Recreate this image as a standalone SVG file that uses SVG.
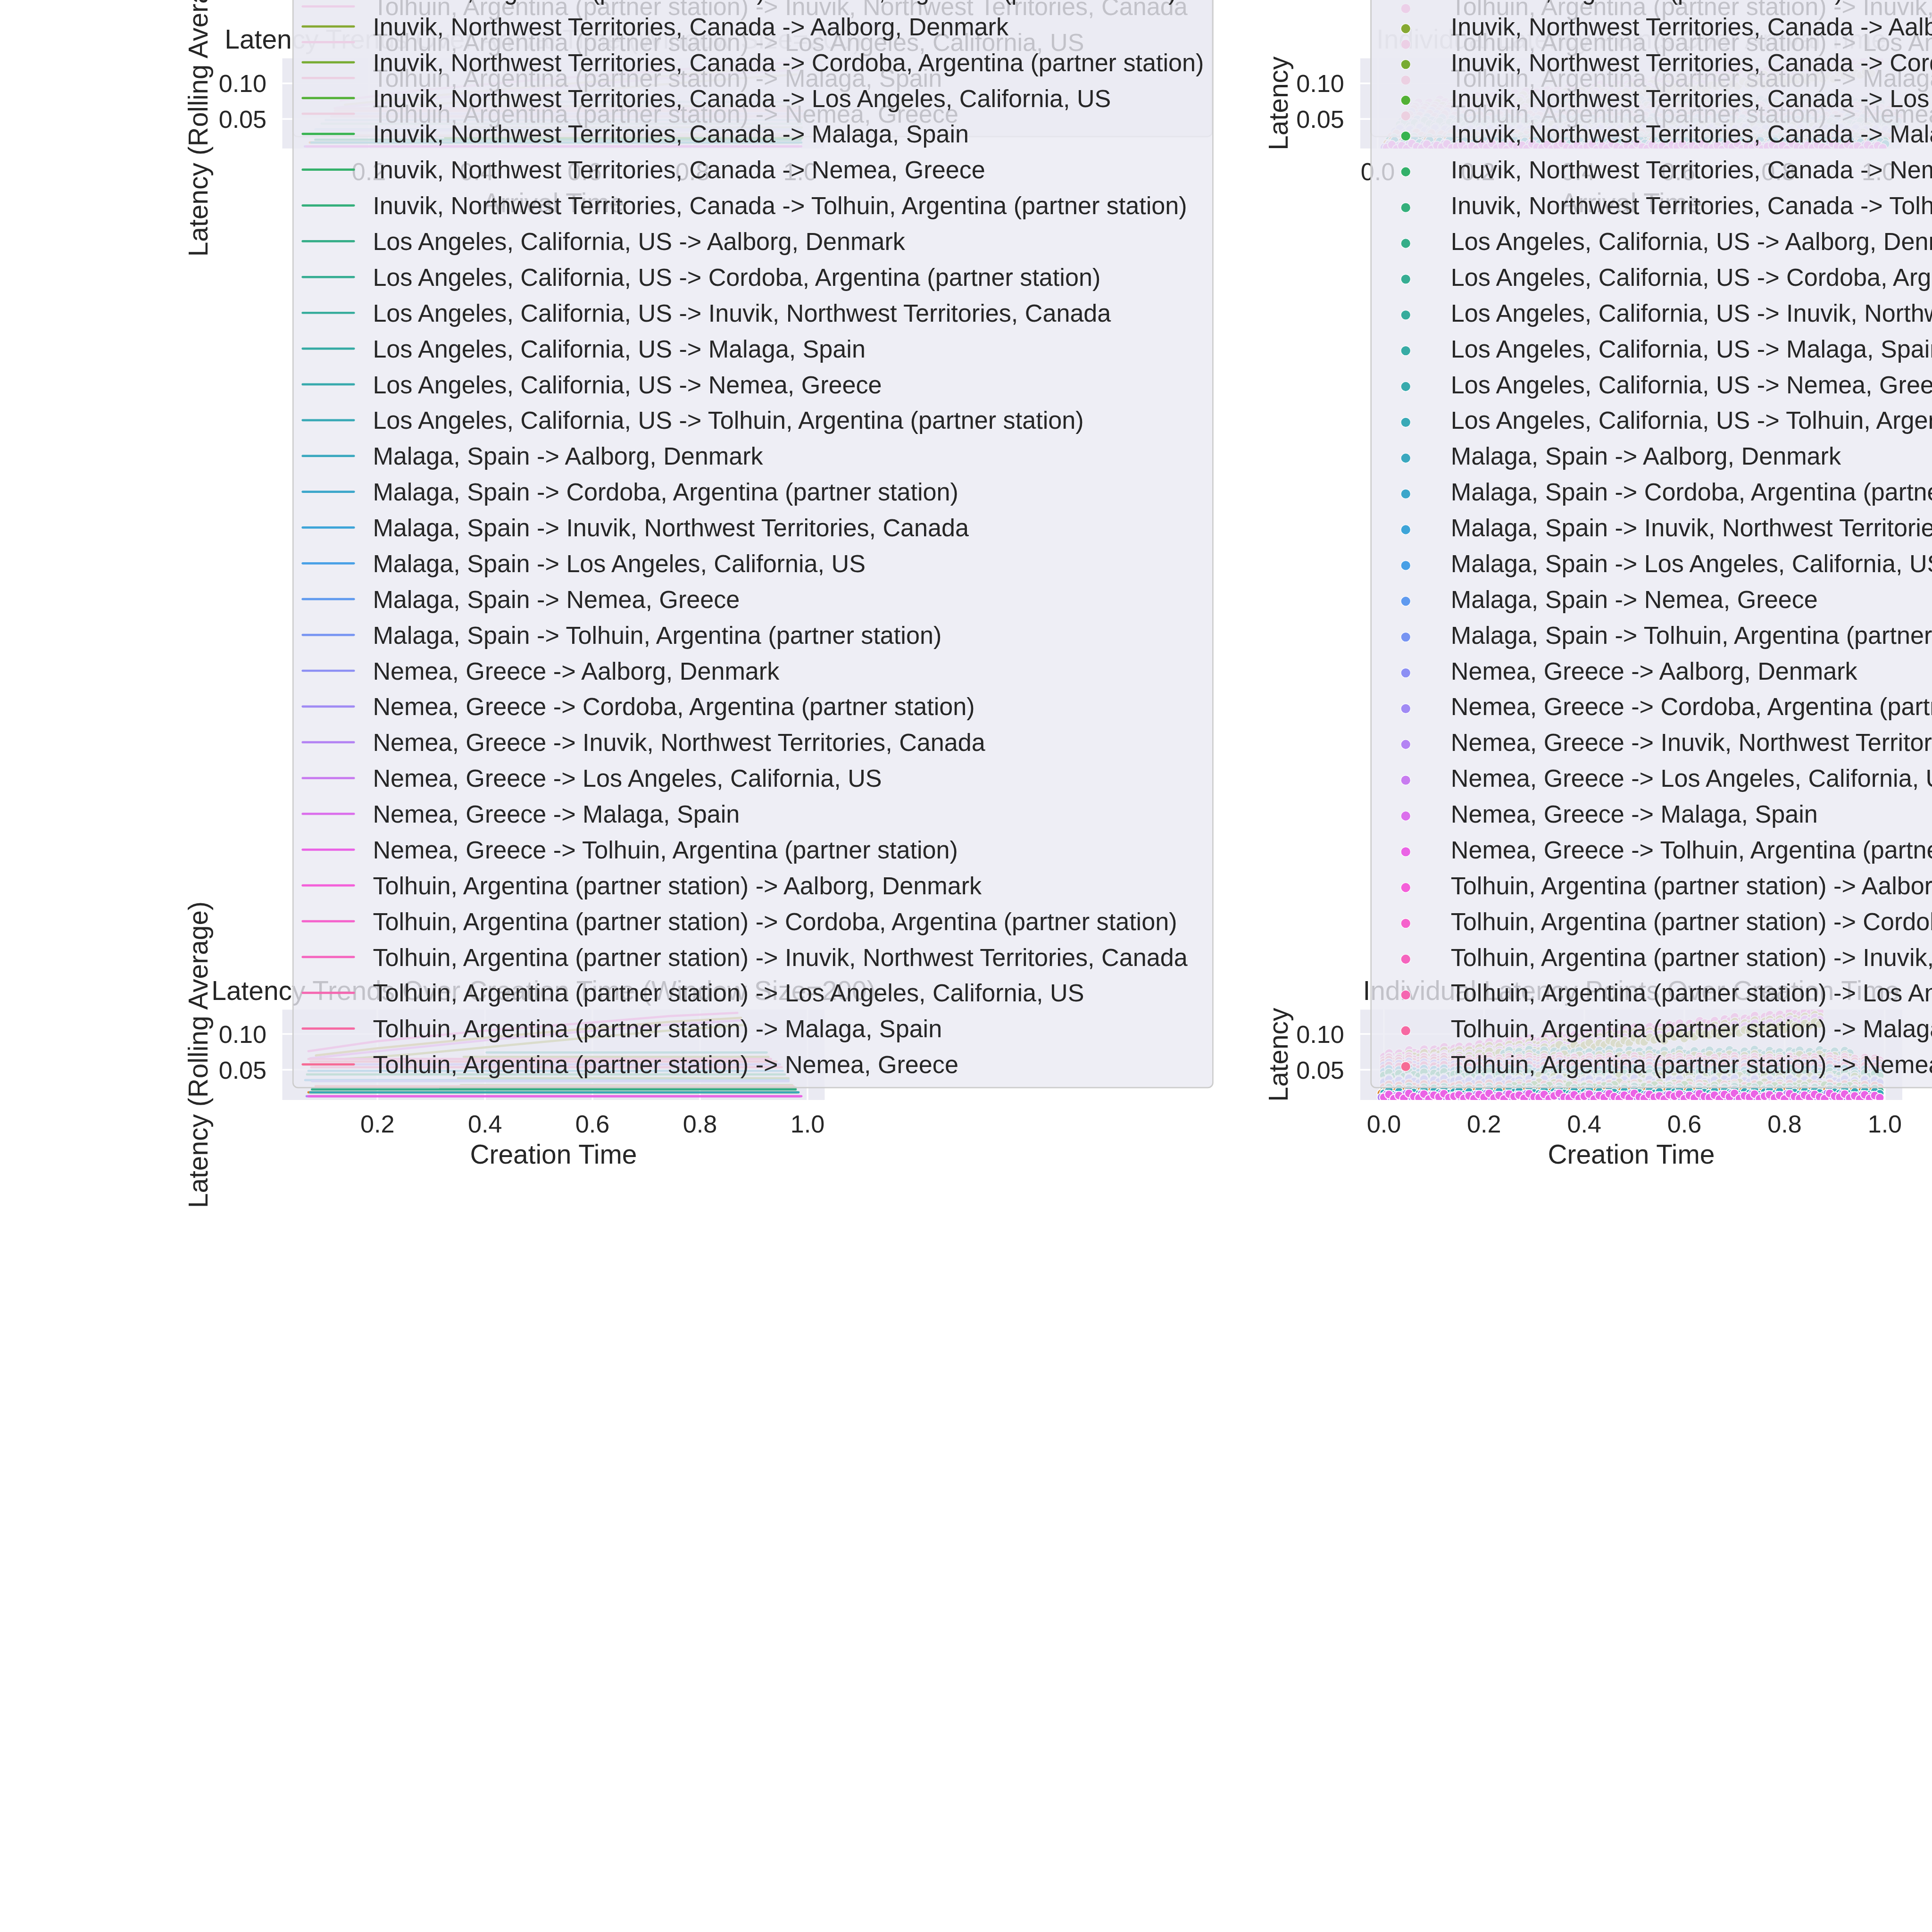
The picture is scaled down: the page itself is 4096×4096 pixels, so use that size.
<svg xmlns="http://www.w3.org/2000/svg" xmlns:xlink="http://www.w3.org/1999/xlink" width="4096" height="4096" viewBox="0 0 4096 4096">
<defs>
<style>
.t{font-family:"Liberation Sans",Arial,sans-serif;fill:#262626}
.lg{font-size:68.75px}
.tk{font-size:68.75px}
.lb{font-size:75px}
.bg{fill:#EAEAF2}
.gd{stroke:#fff;stroke-width:4.5}
.leg{fill:#EAEAF2;fill-opacity:0.8;stroke:#CCCCCC;stroke-width:3.5}
.ln{fill:none;stroke-width:6.25;stroke-linecap:round;stroke-linejoin:round}
.lh{stroke-width:6.25;stroke-linecap:round}
.mk{stroke:#fff;stroke-width:2.5}
.lm{stroke:#fff;stroke-width:1.5}
.mid{text-anchor:middle}
.end{text-anchor:end}
</style>
<clipPath id="c1"><rect x="789" y="163" width="1516" height="252"/></clipPath>
<clipPath id="c2"><rect x="3802" y="163" width="1515" height="252"/></clipPath>
<clipPath id="c3"><rect x="789" y="2822" width="1516" height="252.5"/></clipPath>
<clipPath id="c4"><rect x="3802" y="2822" width="1515" height="252.5"/></clipPath>
<marker id="m0" markerUnits="userSpaceOnUse" markerWidth="32" markerHeight="32" refX="16" refY="16" orient="0"><circle class="mk" cx="16" cy="16" r="12" fill="#f77189"/></marker>
<marker id="m1" markerUnits="userSpaceOnUse" markerWidth="32" markerHeight="32" refX="16" refY="16" orient="0"><circle class="mk" cx="16" cy="16" r="12" fill="#f6736f"/></marker>
<marker id="m4" markerUnits="userSpaceOnUse" markerWidth="32" markerHeight="32" refX="16" refY="16" orient="0"><circle class="mk" cx="16" cy="16" r="12" fill="#d88a32"/></marker>
<marker id="m8" markerUnits="userSpaceOnUse" markerWidth="32" markerHeight="32" refX="16" refY="16" orient="0"><circle class="mk" cx="16" cy="16" r="12" fill="#ad9d31"/></marker>
<marker id="m10" markerUnits="userSpaceOnUse" markerWidth="32" markerHeight="32" refX="16" refY="16" orient="0"><circle class="mk" cx="16" cy="16" r="12" fill="#99a431"/></marker>
<marker id="m11" markerUnits="userSpaceOnUse" markerWidth="32" markerHeight="32" refX="16" refY="16" orient="0"><circle class="mk" cx="16" cy="16" r="12" fill="#90a631"/></marker>
<marker id="m12" markerUnits="userSpaceOnUse" markerWidth="32" markerHeight="32" refX="16" refY="16" orient="0"><circle class="mk" cx="16" cy="16" r="12" fill="#86a832"/></marker>
<marker id="m13" markerUnits="userSpaceOnUse" markerWidth="32" markerHeight="32" refX="16" refY="16" orient="0"><circle class="mk" cx="16" cy="16" r="12" fill="#77ab32"/></marker>
<marker id="m14" markerUnits="userSpaceOnUse" markerWidth="32" markerHeight="32" refX="16" refY="16" orient="0"><circle class="mk" cx="16" cy="16" r="12" fill="#52b035"/></marker>
<marker id="m17" markerUnits="userSpaceOnUse" markerWidth="32" markerHeight="32" refX="16" refY="16" orient="0"><circle class="mk" cx="16" cy="16" r="12" fill="#34af7b"/></marker>
<marker id="m18" markerUnits="userSpaceOnUse" markerWidth="32" markerHeight="32" refX="16" refY="16" orient="0"><circle class="mk" cx="16" cy="16" r="12" fill="#35ad88"/></marker>
<marker id="m20" markerUnits="userSpaceOnUse" markerWidth="32" markerHeight="32" refX="16" refY="16" orient="0"><circle class="mk" cx="16" cy="16" r="12" fill="#36ac9c"/></marker>
<marker id="m23" markerUnits="userSpaceOnUse" markerWidth="32" markerHeight="32" refX="16" refY="16" orient="0"><circle class="mk" cx="16" cy="16" r="12" fill="#39a9b6"/></marker>
<marker id="m25" markerUnits="userSpaceOnUse" markerWidth="32" markerHeight="32" refX="16" refY="16" orient="0"><circle class="mk" cx="16" cy="16" r="12" fill="#3ba6ca"/></marker>
<marker id="m26" markerUnits="userSpaceOnUse" markerWidth="32" markerHeight="32" refX="16" refY="16" orient="0"><circle class="mk" cx="16" cy="16" r="12" fill="#3da4d8"/></marker>
<marker id="m30" markerUnits="userSpaceOnUse" markerWidth="32" markerHeight="32" refX="16" refY="16" orient="0"><circle class="mk" cx="16" cy="16" r="12" fill="#8c8ff4"/></marker>
<marker id="m31" markerUnits="userSpaceOnUse" markerWidth="32" markerHeight="32" refX="16" refY="16" orient="0"><circle class="mk" cx="16" cy="16" r="12" fill="#a08af4"/></marker>
<marker id="m32" markerUnits="userSpaceOnUse" markerWidth="32" markerHeight="32" refX="16" refY="16" orient="0"><circle class="mk" cx="16" cy="16" r="12" fill="#b484f3"/></marker>
<marker id="m34" markerUnits="userSpaceOnUse" markerWidth="32" markerHeight="32" refX="16" refY="16" orient="0"><circle class="mk" cx="16" cy="16" r="12" fill="#db70ec"/></marker>
<marker id="m35" markerUnits="userSpaceOnUse" markerWidth="32" markerHeight="32" refX="16" refY="16" orient="0"><circle class="mk" cx="16" cy="16" r="12" fill="#ea63e5"/></marker>
<marker id="m37" markerUnits="userSpaceOnUse" markerWidth="32" markerHeight="32" refX="16" refY="16" orient="0"><circle class="mk" cx="16" cy="16" r="12" fill="#f562cc"/></marker>
<marker id="m39" markerUnits="userSpaceOnUse" markerWidth="32" markerHeight="32" refX="16" refY="16" orient="0"><circle class="mk" cx="16" cy="16" r="12" fill="#f566b0"/></marker>
<marker id="m40" markerUnits="userSpaceOnUse" markerWidth="32" markerHeight="32" refX="16" refY="16" orient="0"><circle class="mk" cx="16" cy="16" r="12" fill="#f669a2"/></marker>
<polyline id="J70" fill="none" stroke="none" points="0,3 14,-5 28,7 42,-2 56,6 70,-8 84,1 98,5 112,-6 126,8 140,-3 154,2 168,-7 182,4 196,0 210,-4 224,6 238,-1 252,7 266,-5 280,3 294,-8 308,5 322,-2 336,8 350,-6 364,1 378,-3 392,6 406,-7 420,2 434,4 448,-5 462,7 476,-1 490,-8 504,3 518,5 532,-4 546,6 560,0 574,-6 588,8 602,-2 616,4 630,-7 644,1 658,7 672,-3 686,5 700,-8 714,2 728,6 742,-5 756,3 770,-1 784,8 798,-4 812,0 826,-6 840,7 854,-2 868,5 882,-7 896,1 910,4 924,-3 938,8 952,-5 966,2"/>
<polyline id="J88" fill="none" stroke="none" points="0,3 14,-5 28,7 42,-2 56,6 70,-8 84,1 98,5 112,-6 126,8 140,-3 154,2 168,-7 182,4 196,0 210,-4 224,6 238,-1 252,7 266,-5 280,3 294,-8 308,5 322,-2 336,8 350,-6 364,1 378,-3 392,6 406,-7 420,2 434,4 448,-5 462,7 476,-1 490,-8 504,3 518,5 532,-4 546,6 560,0 574,-6 588,8 602,-2 616,4 630,-7 644,1 658,7 672,-3 686,5 700,-8 714,2 728,6 742,-5 756,3 770,-1 784,8 798,-4 812,0 826,-6 840,7 854,-2 868,5 882,-7 896,1 910,4 924,-3 938,8 952,-5 966,2 980,-8 994,6 1008,-1 1022,3 1036,-6 1050,7 1064,0 1078,-4 1092,5 1106,-2 1120,8 1134,-7 1148,1 1162,6 1176,-3 1190,4 1204,-5 1218,2"/>
<polyline id="J100" fill="none" stroke="none" points="0,3 14,-5 28,7 42,-2 56,6 70,-8 84,1 98,5 112,-6 126,8 140,-3 154,2 168,-7 182,4 196,0 210,-4 224,6 238,-1 252,7 266,-5 280,3 294,-8 308,5 322,-2 336,8 350,-6 364,1 378,-3 392,6 406,-7 420,2 434,4 448,-5 462,7 476,-1 490,-8 504,3 518,5 532,-4 546,6 560,0 574,-6 588,8 602,-2 616,4 630,-7 644,1 658,7 672,-3 686,5 700,-8 714,2 728,6 742,-5 756,3 770,-1 784,8 798,-4 812,0 826,-6 840,7 854,-2 868,5 882,-7 896,1 910,4 924,-3 938,8 952,-5 966,2 980,-8 994,6 1008,-1 1022,3 1036,-6 1050,7 1064,0 1078,-4 1092,5 1106,-2 1120,8 1134,-7 1148,1 1162,6 1176,-3 1190,4 1204,-5 1218,2 1232,7 1246,-8 1260,0 1274,3 1288,-6 1302,5 1316,-1 1330,8 1344,-4 1358,6 1372,-2 1386,4"/>
</defs>
<rect x="0" y="0" width="4096" height="4096" fill="#ffffff"/>
<g transform="scale(0.758519)">

<!-- ============ AX1 : top-left ============ -->
<g id="ax1">
<rect class="bg" x="789" y="163" width="1516" height="252"/>
<g class="gd">
<line x1="1031" y1="163" x2="1031" y2="415"/><line x1="1332.5" y1="163" x2="1332.5" y2="415"/><line x1="1634" y1="163" x2="1634" y2="415"/><line x1="1935.5" y1="163" x2="1935.5" y2="415"/><line x1="2237" y1="163" x2="2237" y2="415"/>
<line x1="789" y1="233" x2="2305" y2="233"/><line x1="789" y1="332.6" x2="2305" y2="332.6"/>
</g>
<g clip-path="url(#c1)">
<polyline class="ln" stroke="#f562cc" points="952,280.8 1167.7,252.9 1497.3,223 1821.6,200.1 2039.1,183.2 2235.6,174.2"/>
<polyline class="ln" stroke="#ad9d31" points="963.9,292.8 1152.6,273 1482.2,243 1809.6,216.1 2027.1,199.1 2235.1,188.2"/>
<polyline class="ln" stroke="#db70ec" points="941.9,300.7 1146.6,280.8 1476.9,249.9 1804.3,223 2021,207.1 2229.8,195.2"/>
<polyline class="ln" stroke="#99a431" points="1037.7,302.7 1234.1,289.8 1461.9,269.9 1790.7,241 2009,223 2226,208.1"/>
<polyline class="ln" stroke="#36ac9c" points="1449,284.5 2234.5,284.5"/>
<polyline class="ln" stroke="#90a631" points="1375.3,296.7 2230,296.7"/>
<polyline class="ln" stroke="#f566b0" points="935.4,302.7 2232.7,302.7"/>
<polyline class="ln" stroke="#f77189" points="936.1,309.7 2242.4,309.7"/>
<polyline class="ln" stroke="#a08af4" points="927.1,317.7 2246.5,317.7"/>
<polyline class="ln" stroke="#f669a2" points="926.1,325.6 2245.5,325.6"/>
<polyline class="ln" stroke="#3ba6ca" points="910.5,335.6 2240.9,335.6"/>
<polyline class="ln" stroke="#34af7b" points="898.9,345.5 2239.4,345.5"/>
<polyline class="ln" stroke="#77ab32" points="1314,356.5 2241.1,356.5"/>
<polyline class="ln" stroke="#3da4d8" points="881.8,361.5 2237.3,361.5"/>
<polyline class="ln" stroke="#8c8ff4" points="898.7,364.5 2235.1,364.5"/>
<polyline class="ln" stroke="#86a832" points="1307.8,375.4 2236.9,375.4"/>
<polyline class="ln" stroke="#f6736f" points="898.1,378.4 2238.6,378.4"/>
<polyline class="ln" stroke="#52b035" points="1244.3,385.4 2241.6,385.4"/>
<polyline class="ln" stroke="#35ad88" points="881.3,390.4 2237.8,390.4"/>
<polyline class="ln" stroke="#d88a32" points="866,398.4 2235,398.4"/>
<polyline class="ln" stroke="#39a9b6" points="870.3,398.4 2239.8,398.4"/>
<polyline class="ln" stroke="#b484f3" points="852,409.3 2235,409.3"/>
<polyline class="ln" stroke="#ea63e5" points="857,409.3 2239.5,409.3"/>
</g>
<text class="t tk end" x="745" y="257.6">0.10</text>
<text class="t tk end" x="745" y="357.2">0.05</text>
<text class="t tk mid" x="1031" y="504">0.2</text>
<text class="t tk mid" x="1332.5" y="504">0.4</text>
<text class="t tk mid" x="1634" y="504">0.6</text>
<text class="t tk mid" x="1935.5" y="504">0.8</text>
<text class="t tk mid" x="2237" y="504">1.0</text>
<text class="t lb mid" x="1547" y="593.5">Arrival Time</text>
<text class="t lb mid" transform="translate(580,289) rotate(-90)">Latency (Rolling Average)</text>
<text class="t lb" x="628" y="136">Latency Trends Over Arrival Time (Window Size=200)</text>
</g>

<g id="ax1-legend">
<rect class="leg" x="819" y="-300" width="2569" height="682" rx="14"/>
<g transform="translate(0,17.9)"><line class="lh" x1="846" x2="989" stroke="#f564be"/><text class="t lg" x="1042" y="24.5">Tolhuin, Argentina (partner station) -&gt; Inuvik, Northwest Territories, Canada</text></g>
<g transform="translate(0,117.9)"><line class="lh" x1="846" x2="989" stroke="#f566b0"/><text class="t lg" x="1042" y="24.5">Tolhuin, Argentina (partner station) -&gt; Los Angeles, California, US</text></g>
<g transform="translate(0,218)"><line class="lh" x1="846" x2="989" stroke="#f669a2"/><text class="t lg" x="1042" y="24.5">Tolhuin, Argentina (partner station) -&gt; Malaga, Spain</text></g>
<g transform="translate(0,318)"><line class="lh" x1="846" x2="989" stroke="#f66c95"/><text class="t lg" x="1042" y="24.5">Tolhuin, Argentina (partner station) -&gt; Nemea, Greece</text></g>
</g>

<!-- ============ AX2 : top-right ============ -->
<g id="ax2">
<rect class="bg" x="3802" y="163" width="1515" height="252"/>
<g class="gd">
<line x1="3851" y1="163" x2="3851" y2="415"/><line x1="4131" y1="163" x2="4131" y2="415"/><line x1="4411" y1="163" x2="4411" y2="415"/><line x1="4691" y1="163" x2="4691" y2="415"/><line x1="4971" y1="163" x2="4971" y2="415"/><line x1="5251" y1="163" x2="5251" y2="415"/>
<line x1="3802" y1="233" x2="5317" y2="233"/><line x1="3802" y1="332.6" x2="5317" y2="332.6"/>
</g>
<g clip-path="url(#c2)">
<use xlink:href="#J88" href="#J88" transform="matrix(1.0713,-0.1014,0,1,3949,292.8)" style="marker:url(#m37)"/>
<use xlink:href="#J88" href="#J88" transform="matrix(1.069,-0.0981,0,1,3942,302.7)" style="marker:url(#m8)"/>
<use xlink:href="#J88" href="#J88" transform="matrix(1.0701,-0.0998,0,1,3935,312.7)" style="marker:url(#m34)"/>
<use xlink:href="#J88" href="#J88" transform="matrix(1.0655,-0.0933,0,1,3932.2,316.7)" style="marker:url(#m10)"/>
<use xlink:href="#J70" href="#J70" transform="translate(4290.9,284.4)" style="marker:url(#m20)"/>
<use xlink:href="#J70" href="#J70" transform="translate(4282.2,296.7)" style="marker:url(#m11)"/>
<use xlink:href="#J100" href="#J100" transform="translate(3942,302.7)" style="marker:url(#m39)"/>
<use xlink:href="#J100" href="#J100" transform="translate(3937.1,309.7)" style="marker:url(#m0)"/>
<use xlink:href="#J100" href="#J100" transform="translate(3931.5,317.7)" style="marker:url(#m31)"/>
<use xlink:href="#J100" href="#J100" transform="translate(3925.9,325.6)" style="marker:url(#m40)"/>
<use xlink:href="#J100" href="#J100" transform="translate(3918.9,335.6)" style="marker:url(#m25)"/>
<use xlink:href="#J100" href="#J100" transform="translate(3911.9,345.5)" style="marker:url(#m17)"/>
<use xlink:href="#J70" href="#J70" transform="translate(4268.2,356.5)" style="marker:url(#m13)"/>
<use xlink:href="#J100" href="#J100" transform="translate(3900.7,361.5)" style="marker:url(#m26)"/>
<use xlink:href="#J100" href="#J100" transform="translate(3898.6,364.5)" style="marker:url(#m30)"/>
<use xlink:href="#J70" href="#J70" transform="translate(4254.9,375.4)" style="marker:url(#m12)"/>
<use xlink:href="#J100" href="#J100" transform="translate(3888.8,378.4)" style="marker:url(#m1)"/>
<use xlink:href="#J70" href="#J70" transform="translate(4236,385.4)" style="marker:url(#m14)"/>
<use xlink:href="#J100" href="#J100" transform="translate(3882.5,390.4)" style="marker:url(#m18)"/>
<use xlink:href="#J100" href="#J100" transform="translate(3876.9,398.4)" style="marker:url(#m4)"/>
<use xlink:href="#J100" href="#J100" transform="translate(3883.9,398.4)" style="marker:url(#m23)"/>
<use xlink:href="#J100" href="#J100" transform="translate(3869.2,409.3)" style="marker:url(#m32)"/>
<use xlink:href="#J100" href="#J100" transform="translate(3876.2,409.3)" style="marker:url(#m35)"/>
</g>
<text class="t tk end" x="3757" y="257.6">0.10</text>
<text class="t tk end" x="3757" y="357.2">0.05</text>
<text class="t tk mid" x="3851" y="504">0.0</text>
<text class="t tk mid" x="4131" y="504">0.2</text>
<text class="t tk mid" x="4411" y="504">0.4</text>
<text class="t tk mid" x="4691" y="504">0.6</text>
<text class="t tk mid" x="4971" y="504">0.8</text>
<text class="t tk mid" x="5251" y="504">1.0</text>
<text class="t lb mid" x="4559.5" y="593.5">Arrival Time</text>
<text class="t lb mid" transform="translate(3599,289) rotate(-90)">Latency</text>
<text class="t lb mid" x="4559.5" y="136">Individual Latency Points Over Arrival Time</text>
</g>

<g id="ax2-legend">
<rect class="leg" x="3832" y="-300" width="1700" height="682" rx="14"/>
<g transform="translate(0,17.9)"><circle class="lm" cx="3929" cy="6" r="13.5" fill="#f564be"/><text class="t lg" x="4055" y="24.5">Tolhuin, Argentina (partner station) -&gt; Inuvik, Northwest Territories, Canada</text></g>
<g transform="translate(0,117.9)"><circle class="lm" cx="3929" cy="6" r="13.5" fill="#f566b0"/><text class="t lg" x="4055" y="24.5">Tolhuin, Argentina (partner station) -&gt; Los Angeles, California, US</text></g>
<g transform="translate(0,218)"><circle class="lm" cx="3929" cy="6" r="13.5" fill="#f669a2"/><text class="t lg" x="4055" y="24.5">Tolhuin, Argentina (partner station) -&gt; Malaga, Spain</text></g>
<g transform="translate(0,318)"><circle class="lm" cx="3929" cy="6" r="13.5" fill="#f66c95"/><text class="t lg" x="4055" y="24.5">Tolhuin, Argentina (partner station) -&gt; Nemea, Greece</text></g>
</g>

<!-- ============ AX3 : bottom-left ============ -->
<g id="ax3">
<rect class="bg" x="789" y="2822" width="1516" height="252.5"/>
<g class="gd">
<line x1="1055" y1="2822" x2="1055" y2="3074.5"/><line x1="1355.5" y1="2822" x2="1355.5" y2="3074.5"/><line x1="1656" y1="2822" x2="1656" y2="3074.5"/><line x1="1956.5" y1="2822" x2="1956.5" y2="3074.5"/><line x1="2257" y1="2822" x2="2257" y2="3074.5"/>
<line x1="789" y1="2890" x2="2305" y2="2890"/><line x1="789" y1="2990" x2="2305" y2="2990"/>
</g>
<g clip-path="url(#c3)">
<polyline class="ln" stroke="#f562cc" points="862,2938 1056,2910 1362,2880 1668,2857 1872,2840 2061,2831"/>
<polyline class="ln" stroke="#ad9d31" points="883,2950 1056,2930 1362,2900 1668,2873 1872,2856 2071,2845"/>
<polyline class="ln" stroke="#db70ec" points="867,2958 1056,2938 1362,2907 1668,2880 1872,2864 2071,2852"/>
<polyline class="ln" stroke="#99a431" points="964,2960 1150,2947 1362,2927 1668,2898 1872,2880 2077,2865"/>
<polyline class="ln" stroke="#36ac9c" points="1360,2941.7 2143,2941.7"/>
<polyline class="ln" stroke="#90a631" points="1296,2954 2148,2954"/>
<polyline class="ln" stroke="#f566b0" points="862,2960 2155,2960"/>
<polyline class="ln" stroke="#f77189" points="868,2967 2170,2967"/>
<polyline class="ln" stroke="#a08af4" points="865,2975 2180,2975"/>
<polyline class="ln" stroke="#f669a2" points="870,2983 2185,2983"/>
<polyline class="ln" stroke="#3ba6ca" points="862,2993 2188,2993"/>
<polyline class="ln" stroke="#34af7b" points="858,3003 2194,3003"/>
<polyline class="ln" stroke="#77ab32" points="1280,3014 2204,3014"/>
<polyline class="ln" stroke="#3da4d8" points="853,3019 2204,3019"/>
<polyline class="ln" stroke="#8c8ff4" points="872,3022 2204,3022"/>
<polyline class="ln" stroke="#86a832" points="1288,3033 2214,3033"/>
<polyline class="ln" stroke="#f6736f" points="882,3036 2218,3036"/>
<polyline class="ln" stroke="#52b035" points="1230,3040 2224,3040"/>
<polyline class="ln" stroke="#35ad88" points="872,3045 2224,3045"/>
<polyline class="ln" stroke="#d88a32" points="862,3053 2228,3053"/>
<polyline class="ln" stroke="#39a9b6" points="867,3053 2232,3053"/>
<polyline class="ln" stroke="#b484f3" points="857,3064 2236,3064"/>
<polyline class="ln" stroke="#ea63e5" points="862,3064 2240,3064"/>
</g>
<text class="t tk end" x="745" y="2914.6">0.10</text>
<text class="t tk end" x="745" y="3014.6">0.05</text>
<text class="t tk mid" x="1055" y="3166">0.2</text>
<text class="t tk mid" x="1355.5" y="3166">0.4</text>
<text class="t tk mid" x="1656" y="3166">0.6</text>
<text class="t tk mid" x="1956.5" y="3166">0.8</text>
<text class="t tk mid" x="2257" y="3166">1.0</text>
<text class="t lb mid" x="1547" y="3253">Creation Time</text>
<text class="t lb mid" transform="translate(580,2948) rotate(-90)">Latency (Rolling Average)</text>
<text class="t lb" x="591" y="2795">Latency Trends Over Creation Time (Window Size=200)</text>
</g>

<g id="ax3-legend">
<rect class="leg" x="819" y="-300" width="2571" height="3340" rx="14"/>
<g transform="translate(0,-25.9)"><line class="lh" x1="846" x2="989" stroke="#90a631"/><text class="t lg" x="1042" y="24.5">Cordoba, Argentina (partner station) -&gt; Tolhuin, Argentina (partner station)</text></g>
<g transform="translate(0,74.1)"><line class="lh" x1="846" x2="989" stroke="#86a832"/><text class="t lg" x="1042" y="24.5">Inuvik, Northwest Territories, Canada -&gt; Aalborg, Denmark</text></g>
<g transform="translate(0,174.1)"><line class="lh" x1="846" x2="989" stroke="#77ab32"/><text class="t lg" x="1042" y="24.5">Inuvik, Northwest Territories, Canada -&gt; Cordoba, Argentina (partner station)</text></g>
<g transform="translate(0,274.2)"><line class="lh" x1="846" x2="989" stroke="#52b035"/><text class="t lg" x="1042" y="24.5">Inuvik, Northwest Territories, Canada -&gt; Los Angeles, California, US</text></g>
<g transform="translate(0,374.2)"><line class="lh" x1="846" x2="989" stroke="#36b34f"/><text class="t lg" x="1042" y="24.5">Inuvik, Northwest Territories, Canada -&gt; Malaga, Spain</text></g>
<g transform="translate(0,474.2)"><line class="lh" x1="846" x2="989" stroke="#33b06a"/><text class="t lg" x="1042" y="24.5">Inuvik, Northwest Territories, Canada -&gt; Nemea, Greece</text></g>
<g transform="translate(0,574.3)"><line class="lh" x1="846" x2="989" stroke="#34af7b"/><text class="t lg" x="1042" y="24.5">Inuvik, Northwest Territories, Canada -&gt; Tolhuin, Argentina (partner station)</text></g>
<g transform="translate(0,674.3)"><line class="lh" x1="846" x2="989" stroke="#35ad88"/><text class="t lg" x="1042" y="24.5">Los Angeles, California, US -&gt; Aalborg, Denmark</text></g>
<g transform="translate(0,774.3)"><line class="lh" x1="846" x2="989" stroke="#36ad93"/><text class="t lg" x="1042" y="24.5">Los Angeles, California, US -&gt; Cordoba, Argentina (partner station)</text></g>
<g transform="translate(0,874.4)"><line class="lh" x1="846" x2="989" stroke="#36ac9c"/><text class="t lg" x="1042" y="24.5">Los Angeles, California, US -&gt; Inuvik, Northwest Territories, Canada</text></g>
<g transform="translate(0,974.4)"><line class="lh" x1="846" x2="989" stroke="#37aba5"/><text class="t lg" x="1042" y="24.5">Los Angeles, California, US -&gt; Malaga, Spain</text></g>
<g transform="translate(0,1074.4)"><line class="lh" x1="846" x2="989" stroke="#38aaad"/><text class="t lg" x="1042" y="24.5">Los Angeles, California, US -&gt; Nemea, Greece</text></g>
<g transform="translate(0,1174.4)"><line class="lh" x1="846" x2="989" stroke="#39a9b6"/><text class="t lg" x="1042" y="24.5">Los Angeles, California, US -&gt; Tolhuin, Argentina (partner station)</text></g>
<g transform="translate(0,1274.5)"><line class="lh" x1="846" x2="989" stroke="#3aa8bf"/><text class="t lg" x="1042" y="24.5">Malaga, Spain -&gt; Aalborg, Denmark</text></g>
<g transform="translate(0,1374.5)"><line class="lh" x1="846" x2="989" stroke="#3ba6ca"/><text class="t lg" x="1042" y="24.5">Malaga, Spain -&gt; Cordoba, Argentina (partner station)</text></g>
<g transform="translate(0,1474.5)"><line class="lh" x1="846" x2="989" stroke="#3da4d8"/><text class="t lg" x="1042" y="24.5">Malaga, Spain -&gt; Inuvik, Northwest Territories, Canada</text></g>
<g transform="translate(0,1574.6)"><line class="lh" x1="846" x2="989" stroke="#48a0e6"/><text class="t lg" x="1042" y="24.5">Malaga, Spain -&gt; Los Angeles, California, US</text></g>
<g transform="translate(0,1674.6)"><line class="lh" x1="846" x2="989" stroke="#5f9aef"/><text class="t lg" x="1042" y="24.5">Malaga, Spain -&gt; Nemea, Greece</text></g>
<g transform="translate(0,1774.6)"><line class="lh" x1="846" x2="989" stroke="#7794f2"/><text class="t lg" x="1042" y="24.5">Malaga, Spain -&gt; Tolhuin, Argentina (partner station)</text></g>
<g transform="translate(0,1874.7)"><line class="lh" x1="846" x2="989" stroke="#8c8ff4"/><text class="t lg" x="1042" y="24.5">Nemea, Greece -&gt; Aalborg, Denmark</text></g>
<g transform="translate(0,1974.7)"><line class="lh" x1="846" x2="989" stroke="#a08af4"/><text class="t lg" x="1042" y="24.5">Nemea, Greece -&gt; Cordoba, Argentina (partner station)</text></g>
<g transform="translate(0,2074.7)"><line class="lh" x1="846" x2="989" stroke="#b484f3"/><text class="t lg" x="1042" y="24.5">Nemea, Greece -&gt; Inuvik, Northwest Territories, Canada</text></g>
<g transform="translate(0,2174.8)"><line class="lh" x1="846" x2="989" stroke="#c87cf0"/><text class="t lg" x="1042" y="24.5">Nemea, Greece -&gt; Los Angeles, California, US</text></g>
<g transform="translate(0,2274.8)"><line class="lh" x1="846" x2="989" stroke="#db70ec"/><text class="t lg" x="1042" y="24.5">Nemea, Greece -&gt; Malaga, Spain</text></g>
<g transform="translate(0,2374.8)"><line class="lh" x1="846" x2="989" stroke="#ea63e5"/><text class="t lg" x="1042" y="24.5">Nemea, Greece -&gt; Tolhuin, Argentina (partner station)</text></g>
<g transform="translate(0,2474.8)"><line class="lh" x1="846" x2="989" stroke="#f45fd9"/><text class="t lg" x="1042" y="24.5">Tolhuin, Argentina (partner station) -&gt; Aalborg, Denmark</text></g>
<g transform="translate(0,2574.9)"><line class="lh" x1="846" x2="989" stroke="#f562cc"/><text class="t lg" x="1042" y="24.5">Tolhuin, Argentina (partner station) -&gt; Cordoba, Argentina (partner station)</text></g>
<g transform="translate(0,2674.9)"><line class="lh" x1="846" x2="989" stroke="#f564be"/><text class="t lg" x="1042" y="24.5">Tolhuin, Argentina (partner station) -&gt; Inuvik, Northwest Territories, Canada</text></g>
<g transform="translate(0,2774.9)"><line class="lh" x1="846" x2="989" stroke="#f566b0"/><text class="t lg" x="1042" y="24.5">Tolhuin, Argentina (partner station) -&gt; Los Angeles, California, US</text></g>
<g transform="translate(0,2875)"><line class="lh" x1="846" x2="989" stroke="#f669a2"/><text class="t lg" x="1042" y="24.5">Tolhuin, Argentina (partner station) -&gt; Malaga, Spain</text></g>
<g transform="translate(0,2975)"><line class="lh" x1="846" x2="989" stroke="#f66c95"/><text class="t lg" x="1042" y="24.5">Tolhuin, Argentina (partner station) -&gt; Nemea, Greece</text></g>
</g>

<!-- ============ AX4 : bottom-right ============ -->
<g id="ax4">
<rect class="bg" x="3802" y="2822" width="1515" height="252.5"/>
<g class="gd">
<line x1="3868" y1="2822" x2="3868" y2="3074.5"/><line x1="4148" y1="2822" x2="4148" y2="3074.5"/><line x1="4428" y1="2822" x2="4428" y2="3074.5"/><line x1="4708" y1="2822" x2="4708" y2="3074.5"/><line x1="4988" y1="2822" x2="4988" y2="3074.5"/><line x1="5268" y1="2822" x2="5268" y2="3074.5"/>
<line x1="3802" y1="2890" x2="5317" y2="2890"/><line x1="3802" y1="2990" x2="5317" y2="2990"/>
</g>
<g clip-path="url(#c4)">
<use xlink:href="#J88" href="#J88" transform="matrix(1,-0.1018,0,1,3868,2950)" style="marker:url(#m37)"/>
<use xlink:href="#J88" href="#J88" transform="matrix(1,-0.0985,0,1,3868,2960)" style="marker:url(#m8)"/>
<use xlink:href="#J88" href="#J88" transform="matrix(1,-0.1002,0,1,3868,2970)" style="marker:url(#m34)"/>
<use xlink:href="#J88" href="#J88" transform="matrix(1,-0.0936,0,1,3868,2974)" style="marker:url(#m10)"/>
<use xlink:href="#J70" href="#J70" transform="translate(4204,2941.6)" style="marker:url(#m20)"/>
<use xlink:href="#J70" href="#J70" transform="translate(4204,2954)" style="marker:url(#m11)"/>
<use xlink:href="#J100" href="#J100" transform="translate(3868,2960)" style="marker:url(#m39)"/>
<use xlink:href="#J100" href="#J100" transform="translate(3868,2967)" style="marker:url(#m0)"/>
<use xlink:href="#J100" href="#J100" transform="translate(3868,2975)" style="marker:url(#m31)"/>
<use xlink:href="#J100" href="#J100" transform="translate(3868,2983)" style="marker:url(#m40)"/>
<use xlink:href="#J100" href="#J100" transform="translate(3868,2993)" style="marker:url(#m25)"/>
<use xlink:href="#J100" href="#J100" transform="translate(3868,3003)" style="marker:url(#m17)"/>
<use xlink:href="#J70" href="#J70" transform="translate(4232,3014)" style="marker:url(#m13)"/>
<use xlink:href="#J100" href="#J100" transform="translate(3868,3019)" style="marker:url(#m26)"/>
<use xlink:href="#J100" href="#J100" transform="translate(3868,3022)" style="marker:url(#m30)"/>
<use xlink:href="#J70" href="#J70" transform="translate(4232,3033)" style="marker:url(#m12)"/>
<use xlink:href="#J100" href="#J100" transform="translate(3868,3036)" style="marker:url(#m1)"/>
<use xlink:href="#J70" href="#J70" transform="translate(4218,3040)" style="marker:url(#m14)"/>
<use xlink:href="#J100" href="#J100" transform="translate(3868,3045)" style="marker:url(#m18)"/>
<use xlink:href="#J100" href="#J100" transform="translate(3861,3053)" style="marker:url(#m4)"/>
<use xlink:href="#J100" href="#J100" transform="translate(3868,3053)" style="marker:url(#m23)"/>
<use xlink:href="#J100" href="#J100" transform="translate(3861,3064)" style="marker:url(#m32)"/>
<use xlink:href="#J100" href="#J100" transform="translate(3868,3064)" style="marker:url(#m35)"/>
</g>
<text class="t tk end" x="3757" y="2914.6">0.10</text>
<text class="t tk end" x="3757" y="3014.6">0.05</text>
<text class="t tk mid" x="3868" y="3166">0.0</text>
<text class="t tk mid" x="4148" y="3166">0.2</text>
<text class="t tk mid" x="4428" y="3166">0.4</text>
<text class="t tk mid" x="4708" y="3166">0.6</text>
<text class="t tk mid" x="4988" y="3166">0.8</text>
<text class="t tk mid" x="5268" y="3166">1.0</text>
<text class="t lb mid" x="4559.5" y="3253">Creation Time</text>
<text class="t lb mid" transform="translate(3599,2948) rotate(-90)">Latency</text>
<text class="t lb mid" x="4559.5" y="2795">Individual Latency Points Over Creation Time</text>
</g>

<g id="ax4-legend">
<rect class="leg" x="3832" y="-300" width="1700" height="3340" rx="14"/>
<g transform="translate(0,-25.9)"><circle class="lm" cx="3929" cy="6" r="13.5" fill="#90a631"/><text class="t lg" x="4055" y="24.5">Cordoba, Argentina (partner station) -&gt; Tolhuin, Argentina (partner station)</text></g>
<g transform="translate(0,74.1)"><circle class="lm" cx="3929" cy="6" r="13.5" fill="#86a832"/><text class="t lg" x="4055" y="24.5">Inuvik, Northwest Territories, Canada -&gt; Aalborg, Denmark</text></g>
<g transform="translate(0,174.1)"><circle class="lm" cx="3929" cy="6" r="13.5" fill="#77ab32"/><text class="t lg" x="4055" y="24.5">Inuvik, Northwest Territories, Canada -&gt; Cordoba, Argentina (partner station)</text></g>
<g transform="translate(0,274.2)"><circle class="lm" cx="3929" cy="6" r="13.5" fill="#52b035"/><text class="t lg" x="4055" y="24.5">Inuvik, Northwest Territories, Canada -&gt; Los Angeles, California, US</text></g>
<g transform="translate(0,374.2)"><circle class="lm" cx="3929" cy="6" r="13.5" fill="#36b34f"/><text class="t lg" x="4055" y="24.5">Inuvik, Northwest Territories, Canada -&gt; Malaga, Spain</text></g>
<g transform="translate(0,474.2)"><circle class="lm" cx="3929" cy="6" r="13.5" fill="#33b06a"/><text class="t lg" x="4055" y="24.5">Inuvik, Northwest Territories, Canada -&gt; Nemea, Greece</text></g>
<g transform="translate(0,574.3)"><circle class="lm" cx="3929" cy="6" r="13.5" fill="#34af7b"/><text class="t lg" x="4055" y="24.5">Inuvik, Northwest Territories, Canada -&gt; Tolhuin, Argentina (partner station)</text></g>
<g transform="translate(0,674.3)"><circle class="lm" cx="3929" cy="6" r="13.5" fill="#35ad88"/><text class="t lg" x="4055" y="24.5">Los Angeles, California, US -&gt; Aalborg, Denmark</text></g>
<g transform="translate(0,774.3)"><circle class="lm" cx="3929" cy="6" r="13.5" fill="#36ad93"/><text class="t lg" x="4055" y="24.5">Los Angeles, California, US -&gt; Cordoba, Argentina (partner station)</text></g>
<g transform="translate(0,874.4)"><circle class="lm" cx="3929" cy="6" r="13.5" fill="#36ac9c"/><text class="t lg" x="4055" y="24.5">Los Angeles, California, US -&gt; Inuvik, Northwest Territories, Canada</text></g>
<g transform="translate(0,974.4)"><circle class="lm" cx="3929" cy="6" r="13.5" fill="#37aba5"/><text class="t lg" x="4055" y="24.5">Los Angeles, California, US -&gt; Malaga, Spain</text></g>
<g transform="translate(0,1074.4)"><circle class="lm" cx="3929" cy="6" r="13.5" fill="#38aaad"/><text class="t lg" x="4055" y="24.5">Los Angeles, California, US -&gt; Nemea, Greece</text></g>
<g transform="translate(0,1174.4)"><circle class="lm" cx="3929" cy="6" r="13.5" fill="#39a9b6"/><text class="t lg" x="4055" y="24.5">Los Angeles, California, US -&gt; Tolhuin, Argentina (partner station)</text></g>
<g transform="translate(0,1274.5)"><circle class="lm" cx="3929" cy="6" r="13.5" fill="#3aa8bf"/><text class="t lg" x="4055" y="24.5">Malaga, Spain -&gt; Aalborg, Denmark</text></g>
<g transform="translate(0,1374.5)"><circle class="lm" cx="3929" cy="6" r="13.5" fill="#3ba6ca"/><text class="t lg" x="4055" y="24.5">Malaga, Spain -&gt; Cordoba, Argentina (partner station)</text></g>
<g transform="translate(0,1474.5)"><circle class="lm" cx="3929" cy="6" r="13.5" fill="#3da4d8"/><text class="t lg" x="4055" y="24.5">Malaga, Spain -&gt; Inuvik, Northwest Territories, Canada</text></g>
<g transform="translate(0,1574.6)"><circle class="lm" cx="3929" cy="6" r="13.5" fill="#48a0e6"/><text class="t lg" x="4055" y="24.5">Malaga, Spain -&gt; Los Angeles, California, US</text></g>
<g transform="translate(0,1674.6)"><circle class="lm" cx="3929" cy="6" r="13.5" fill="#5f9aef"/><text class="t lg" x="4055" y="24.5">Malaga, Spain -&gt; Nemea, Greece</text></g>
<g transform="translate(0,1774.6)"><circle class="lm" cx="3929" cy="6" r="13.5" fill="#7794f2"/><text class="t lg" x="4055" y="24.5">Malaga, Spain -&gt; Tolhuin, Argentina (partner station)</text></g>
<g transform="translate(0,1874.7)"><circle class="lm" cx="3929" cy="6" r="13.5" fill="#8c8ff4"/><text class="t lg" x="4055" y="24.5">Nemea, Greece -&gt; Aalborg, Denmark</text></g>
<g transform="translate(0,1974.7)"><circle class="lm" cx="3929" cy="6" r="13.5" fill="#a08af4"/><text class="t lg" x="4055" y="24.5">Nemea, Greece -&gt; Cordoba, Argentina (partner station)</text></g>
<g transform="translate(0,2074.7)"><circle class="lm" cx="3929" cy="6" r="13.5" fill="#b484f3"/><text class="t lg" x="4055" y="24.5">Nemea, Greece -&gt; Inuvik, Northwest Territories, Canada</text></g>
<g transform="translate(0,2174.8)"><circle class="lm" cx="3929" cy="6" r="13.5" fill="#c87cf0"/><text class="t lg" x="4055" y="24.5">Nemea, Greece -&gt; Los Angeles, California, US</text></g>
<g transform="translate(0,2274.8)"><circle class="lm" cx="3929" cy="6" r="13.5" fill="#db70ec"/><text class="t lg" x="4055" y="24.5">Nemea, Greece -&gt; Malaga, Spain</text></g>
<g transform="translate(0,2374.8)"><circle class="lm" cx="3929" cy="6" r="13.5" fill="#ea63e5"/><text class="t lg" x="4055" y="24.5">Nemea, Greece -&gt; Tolhuin, Argentina (partner station)</text></g>
<g transform="translate(0,2474.8)"><circle class="lm" cx="3929" cy="6" r="13.5" fill="#f45fd9"/><text class="t lg" x="4055" y="24.5">Tolhuin, Argentina (partner station) -&gt; Aalborg, Denmark</text></g>
<g transform="translate(0,2574.9)"><circle class="lm" cx="3929" cy="6" r="13.5" fill="#f562cc"/><text class="t lg" x="4055" y="24.5">Tolhuin, Argentina (partner station) -&gt; Cordoba, Argentina (partner station)</text></g>
<g transform="translate(0,2674.9)"><circle class="lm" cx="3929" cy="6" r="13.5" fill="#f564be"/><text class="t lg" x="4055" y="24.5">Tolhuin, Argentina (partner station) -&gt; Inuvik, Northwest Territories, Canada</text></g>
<g transform="translate(0,2774.9)"><circle class="lm" cx="3929" cy="6" r="13.5" fill="#f566b0"/><text class="t lg" x="4055" y="24.5">Tolhuin, Argentina (partner station) -&gt; Los Angeles, California, US</text></g>
<g transform="translate(0,2875)"><circle class="lm" cx="3929" cy="6" r="13.5" fill="#f669a2"/><text class="t lg" x="4055" y="24.5">Tolhuin, Argentina (partner station) -&gt; Malaga, Spain</text></g>
<g transform="translate(0,2975)"><circle class="lm" cx="3929" cy="6" r="13.5" fill="#f66c95"/><text class="t lg" x="4055" y="24.5">Tolhuin, Argentina (partner station) -&gt; Nemea, Greece</text></g>
</g>

</g>
</svg>
